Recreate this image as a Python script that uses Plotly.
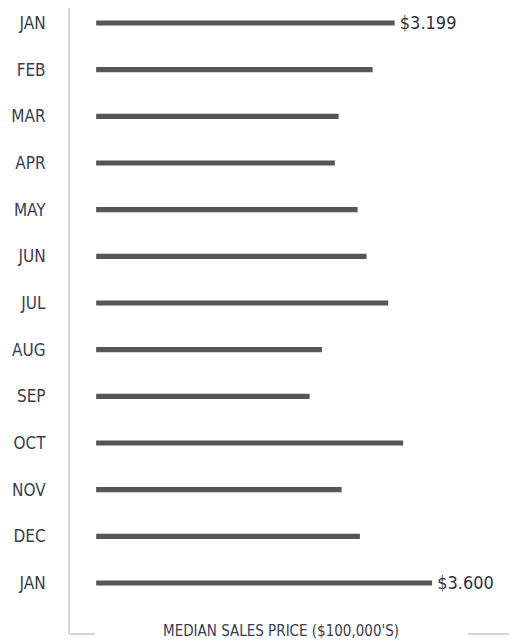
import plotly.graph_objects as go

months = ["JAN", "FEB", "MAR", "APR", "MAY", "JUN", "JUL", "AUG", "SEP", "OCT", "NOV", "DEC", "JAN"]
prices = [3.199, 2.963, 2.599, 2.559, 2.802, 2.898, 3.130, 2.420, 2.288, 3.290, 2.631, 2.827, 3.600]
labels = [" $3.199", "", "", "", "", "", "", "", "", "", "", "", " $3.600"]

font = "DejaVu Sans Condensed, Liberation Sans Narrow, sans-serif"
pos = list(range(len(months)))

# page body has an 8px default margin, so the figure is sized 8px smaller
fig = go.Figure(go.Bar(
    x=prices, y=pos, orientation="h",
    marker=dict(color="#565656", line=dict(width=0)),
    width=0.11,
    text=labels, textposition="outside", constraintext="none",
    textfont=dict(family=font, size=18, color="#2e3140"),
    cliponaxis=False, hoverinfo="skip",
))

fig.update_layout(
    width=509, height=634,
    margin=dict(l=62, r=0, t=0, b=8),
    paper_bgcolor="white", plot_bgcolor="white",
    showlegend=False,
    font=dict(family=font, color="#3a3d4c"),
    xaxis=dict(range=[-0.28, 4.51], showgrid=False, zeroline=False,
               showticklabels=False, showline=False, fixedrange=True,
               automargin=False),
    yaxis=dict(range=[13.093, -0.321], tickvals=pos, ticktext=months,
               showgrid=False, zeroline=False, showline=True,
               linecolor="#d6d6d6", linewidth=2, ticks="", automargin=False,
               ticklabelstandoff=19, tickfont=dict(size=17, color="#3a3d4c")),
    shapes=[
        dict(type="line", xref="paper", yref="paper", x0=0, x1=0.056, y0=0, y1=0,
             line=dict(color="#d6d6d6", width=2)),
        dict(type="line", xref="paper", yref="paper", x0=0.89, x1=1, y0=0, y1=0,
             line=dict(color="#d6d6d6", width=2)),
    ],
    annotations=[dict(text="MEDIAN SALES PRICE ($100,000'S)", xref="paper", yref="paper",
                      x=0.472, y=0, yshift=3, yanchor="middle", showarrow=False,
                      font=dict(size=15, color="#3a3d4c"))],
)

fig.write_html("out.html")
